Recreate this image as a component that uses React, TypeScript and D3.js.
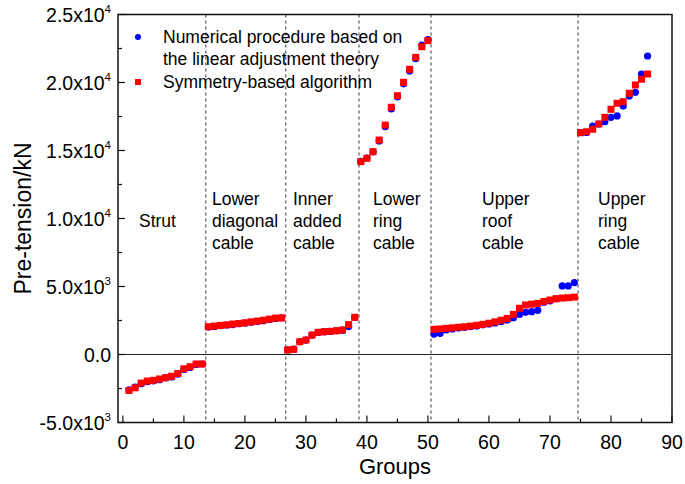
import React from "react";
import * as d3 from "d3";

// ---- data ----
const strutSym = [-2650, -2450, -2100, -1950, -1900, -1800, -1700, -1600, -1400, -1050, -900, -700, -700];
const strutNum = [-2600, -2400, -2150, -2000, -1950, -1850, -1720, -1650, -1450, -1100, -950, -730, -700];
const diagSym = [2040, 2090, 2140, 2180, 2240, 2280, 2330, 2400, 2450, 2520, 2600, 2670, 2690];
const diagNum = [2020, 2060, 2120, 2170, 2200, 2270, 2310, 2370, 2430, 2490, 2570, 2650, 2700];
const innerSym = [330, 380, 940, 1065, 1430, 1630, 1680, 1700, 1750, 1800, 2200, 2735];
const innerNum = [340, 390, 930, 1060, 1420, 1620, 1670, 1700, 1740, 1790, 2050, 2720];
const lowerRingSym = [14180, 14430, 14910, 15770, 16870, 18180, 19030, 20015, 20970, 21850, 22630, 23075];
const lowerRingNum = [14200, 14450, 14900, 15700, 16750, 18050, 18950, 19900, 20850, 21750, 22750, 23150];
const roofSym = [1850, 1880, 1920, 1960, 2000, 2040, 2090, 2150, 2220, 2300, 2400, 2520, 2650, 2950, 3400, 3640, 3700, 3760, 3900, 4010, 4100, 4150, 4180, 4220];
const roofNum = [1500, 1560, 1800, 1880, 1950, 2000, 2050, 2100, 2180, 2250, 2320, 2420, 2540, 2710, 2950, 3100, 3150, 3250, 3850, 3950, 4100, 5040, 5040, 5280];
const upperRingSym = [16310, 16380, 16560, 16950, 17440, 18030, 18470, 18590, 19210, 19820, 20240, 20625];
const upperRingNum = [16310, 16330, 16800, 16950, 17120, 17440, 17540, 18270, 19000, 19280, 20625, 21950];

const symmetryValues = [...strutSym, ...diagSym, ...innerSym, ...lowerRingSym, ...roofSym, ...upperRingSym];
const numericalValues = [...strutNum, ...diagNum, ...innerNum, ...lowerRingNum, ...roofNum, ...upperRingNum];

const dividers = [13.6, 26.7, 38.7, 50.5, 74.6];
const regionLabels = [
  ["Strut"],
  ["Lower", "diagonal", "cable"],
  ["Inner", "added", "cable"],
  ["Lower", "ring", "cable"],
  ["Upper", "roof", "cable"],
  ["Upper", "ring", "cable"],
];

const xTicks = [0, 10, 20, 30, 40, 50, 60, 70, 80, 90];
const xMinorTicks = [5, 15, 25, 35, 45, 55, 65, 75, 85];
const yTicks = [-5000, 0, 5000, 10000, 15000, 20000, 25000];
const yTickMantissa = ["-5.0", "0.0", "5.0", "1.0", "1.5", "2.0", "2.5"];
const yTickExp = ["3", "", "3", "4", "4", "4", "4"];
const yMinorTicks = [-2500, 2500, 7500, 12500, 17500, 22500];

const legendLines = [["Numerical procedure based on", "the linear adjustment theory"], ["Symmetry-based algorithm"]];
const xTitle = "Groups";
const yTitle = "Pre-tension/kN";

// ---- layout ----
const W = 685, H = 484;
const L = 118, R = 672, T = 14.5, B = 422.5;
const FONT = "'Liberation Sans', Arial, sans-serif";
const BLUE = "#0000ff";
const RED = "#ff0000";
const labelLeft = [139, 212, 293, 373, 482, 598];

export default function App() {
  const x = d3.scaleLinear().domain([-0.8, 90]).range([L, R]);
  const y = d3.scaleLinear().domain([-5000, 25000]).range([B, T]);
  const sq = 7;
  const cr = 3.6;

  return (
    <svg width={W} height={H} style={{ position: "absolute", left: 0, top: 0, background: "#fff" }} fontFamily={FONT}>
      <rect x={0} y={0} width={W} height={H} fill="#fff" />
      {/* dividers */}
      {dividers.map((d, i) => (
        <line key={"d" + i} x1={x(d)} x2={x(d)} y1={T} y2={B} stroke="#333" strokeWidth={1} strokeDasharray="3,3" />
      ))}
      {/* zero line */}
      <line x1={L} x2={R} y1={y(0)} y2={y(0)} stroke="#222" strokeWidth={1} />

      {/* region labels */}
      {regionLabels.map((lines, i) =>
        lines.map((t, j) => (
          <text key={"r" + i + j} x={labelLeft[i]} y={(lines.length === 1 ? 227 : 205) + j * 22} fontSize={17.5} fill="#000">
            {t}
          </text>
        ))
      )}

      {/* legend */}
      <circle cx={138} cy={37} r={3} fill={BLUE} />
      <text x={163} y={43} fontSize={17.5}>{legendLines[0][0]}</text>
      <text x={163} y={65} fontSize={17.5}>{legendLines[0][1]}</text>
      <rect x={138 - 3} y={82 - 3} width={6} height={6} fill={RED} />
      <text x={163} y={88} fontSize={17.5}>{legendLines[1][0]}</text>

      {/* numerical (blue circles) */}
      {numericalValues.map((v, i) => (
        <circle key={"n" + i} cx={x(i + 1)} cy={y(v)} r={cr} fill={BLUE} />
      ))}
      {/* symmetry (red squares) */}
      {symmetryValues.map((v, i) => (
        <rect key={"s" + i} x={x(i + 1) - sq / 2} y={y(v) - sq / 2} width={sq} height={sq} fill={RED} />
      ))}

      {/* frame */}
      <rect x={L} y={T} width={R - L} height={B - T} fill="none" stroke="#111" strokeWidth={1.5} />

      {/* x ticks */}
      {xTicks.map((t) => (
        <g key={"xt" + t}>
          <line x1={x(t)} x2={x(t)} y1={B} y2={B - 7} stroke="#111" strokeWidth={1.2} />
          <text x={x(t)} y={B + 26} fontSize={19.5} textAnchor="middle">{t}</text>
        </g>
      ))}
      {xMinorTicks.map((t) => (
        <line key={"xm" + t} x1={x(t)} x2={x(t)} y1={B} y2={B - 4} stroke="#111" strokeWidth={1.2} />
      ))}
      {/* y ticks */}
      {yTicks.map((t, i) => (
        <g key={"yt" + t}>
          <line x1={L} x2={L + 7} y1={y(t)} y2={y(t)} stroke="#111" strokeWidth={1.2} />
          {yTickExp[i] ? (
            <text x={111} y={y(t) + 7} fontSize={19.5} textAnchor="end">
              {yTickMantissa[i] + "x10"}
              <tspan dy={-9} fontSize={11.5}>{yTickExp[i]}</tspan>
            </text>
          ) : (
            <text x={111} y={y(t) + 7} fontSize={19.5} textAnchor="end">{yTickMantissa[i]}</text>
          )}
        </g>
      ))}
      {yMinorTicks.map((t) => (
        <line key={"ym" + t} x1={L} x2={L + 4} y1={y(t)} y2={y(t)} stroke="#111" strokeWidth={1.2} />
      ))}

      {/* axis titles */}
      <text x={(L + R) / 2} y={474} fontSize={22} textAnchor="middle">{xTitle}</text>
      <text transform={`translate(31, ${(T + B) / 2}) rotate(-90)`} fontSize={23} textAnchor="middle">{yTitle}</text>
    </svg>
  );
}
